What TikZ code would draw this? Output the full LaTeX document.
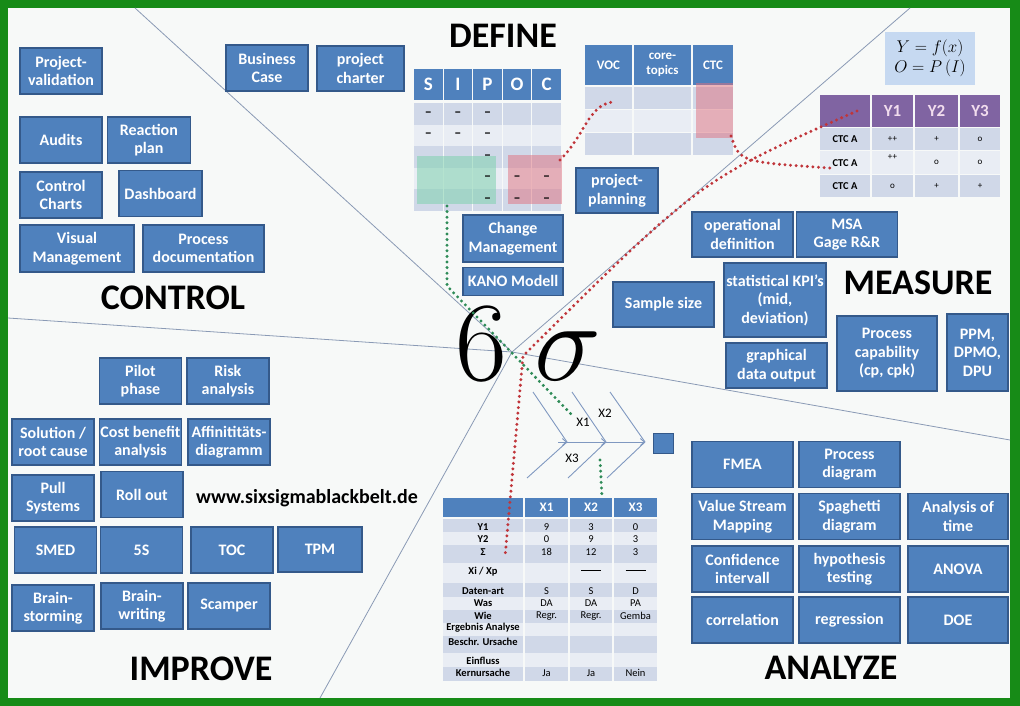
\RequirePackage{fix-cm}
\documentclass[tikz,border=0pt]{standalone}
\usepackage[no-math]{fontspec}
\setmainfont{Carlito}
\usepackage{tikz}
\usetikzlibrary{arrows.meta, positioning}
\definecolor{sixBlue}{HTML}{4F81BD}
\definecolor{sixBlueDark}{HTML}{34598A}
\definecolor{sixPurple}{HTML}{8064A2}
\definecolor{sixLilac}{HTML}{F2DDEE}
\definecolor{sixFrame}{HTML}{178B17}
\definecolor{sixPaper}{HTML}{F7F9F8}
\definecolor{rowDark}{HTML}{D0D8E8}
\definecolor{rowLight}{HTML}{E9EDF4}
\definecolor{formulaBlue}{HTML}{C6D9F1}
\definecolor{lineGrey}{HTML}{8A9AB5}
\definecolor{boneBlue}{HTML}{7F98C0}
\definecolor{dotRed}{HTML}{C0353A}
\definecolor{dotGreen}{HTML}{2E8B57}
\definecolor{mint}{HTML}{7FD1AE}
\definecolor{rose}{HTML}{E0707E}

\begin{document}
\begin{tikzpicture}[
  x=1pt, y=-1pt,
  box/.style={rectangle, draw=sixBlueDark, fill=sixBlue, line width=1.4pt, minimum width=82pt, minimum height=46pt, inner sep=1pt, align=center, text=white, font=\bfseries\fontsize{16}{18.5}\selectfont},
  abox/.style={box, minimum width=101pt, minimum height=46pt},
  phase/.style={inner sep=0pt, font=\bfseries\fontsize{36}{36}\selectfont},
  hdr/.style={rectangle, fill=sixBlue, inner sep=0pt, text=white, align=center, font=\bfseries\fontsize{13}{15}\selectfont},
  cell/.style={inner sep=0pt, font=\fontsize{10.5}{12}\selectfont},
  divider/.style={draw=lineGrey, line width=0.8pt},
  bone/.style={draw=boneBlue, line width=0.9pt},
  arrow/.style={bone, -{Straight Barb[length=4pt, width=7pt]}},
  reddots/.style={draw=dotRed, line width=3.3pt, line cap=round, dash pattern=on 0pt off 5.6pt},
  greendots/.style={reddots, draw=dotGreen},
]

% Frame
\fill[sixFrame] (0,0) rectangle (1020,706);
\fill[sixPaper] (8,8) rectangle (1010,698);
\useasboundingbox (0,0) rectangle (1020,706);

% Dividers between the phases
\coordinate (hub) at (512,352);
\coordinate (cutNW) at (135,8);
\coordinate (cutW) at (8,318);
\coordinate (cutNE) at (910,8);
\coordinate (cutE) at (1010,440);
\coordinate (cutS) at (320,698);
\draw[divider] (hub) -- (cutNW);
\draw[divider] (hub) -- (cutW);
\draw[divider] (hub) -- (cutNE);
\draw[divider] (hub) -- (cutE);
\draw[divider] (hub) -- (cutS);

% CONTROL
\node[box] (pval) at (61,71) {Project-\\validation};
\node[box] (audits) at (61,140) {Audits};
\node[box, minimum width=83pt, right=4pt of audits] (reaction) {Reaction\\plan};
\node[box] (ccharts) at (61,195) {Control\\Charts};
\node[box, minimum width=83pt] (dashboard) at (160.5,193.5) {Dashboard};
\node[box, minimum width=114pt, minimum height=47pt] (visual) at (77,248.5) {Visual\\Management};
\node[box, minimum width=121pt, minimum height=47pt] (procdoc) at (203.5,248.5) {Process\\documentation};
\node[phase] (control) at (173,298) {CONTROL};

% DEFINE
\node[phase] (define) at (503,36) {DEFINE};
\node[box] (bcase) at (267,68) {Business\\Case};
\node[box, minimum width=87pt, minimum height=45pt] (charter) at (360.5,68.5) {project\\charter};
\node[box, minimum width=100pt, minimum height=47pt] (change) at (513,238.5) {Change\\Management};
\node[box, minimum width=100pt, minimum height=28pt, below=4pt of change] (kano) {KANO Modell};
\node[box, minimum height=45pt] (planning) at (617,190.5) {project-\\planning};

% MEASURE
\node[phase] (measure) at (918,283) {MEASURE};
\node[abox, minimum height=45pt] (sample) at (663.5,304.5) {Sample size};
\node[abox, minimum height=45pt] (opdef) at (742.5,234.5) {operational\\definition};
\node[abox, minimum height=45pt, right=2pt of opdef] (msa) {MSA\\Gage R\&R};
\node[abox, minimum width=102pt, minimum height=74pt] (kpi) at (775,300) {statistical KPI’s\\(mid,\\deviation)};
\node[abox, minimum height=45pt] (graph) at (776.5,365.5) {graphical\\data output};
\node[abox, minimum width=100pt, minimum height=75pt] (capab) at (887,353.5) {Process\\capability\\(cp, cpk)};
\node[box, minimum width=61pt, minimum height=77pt] (ppm) at (977.5,352.5) {PPM,\\DPMO,\\DPU};

% ANALYZE
\node[phase] (analyze) at (831,668) {ANALYZE};
\node[abox] (fmea) at (742.5,464.5) {FMEA};
\node[abox] (procdiag) at (849.5,464.5) {Process\\diagram};
\node[abox] (vsm) at (742.5,516.5) {Value Stream\\Mapping};
\node[abox] (spaghetti) at (849.5,516.5) {Spaghetti\\diagram};
\node[abox, minimum width=100pt] (timeana) at (958,516.5) {Analysis of\\time};
\node[abox] (conf) at (742.5,569) {Confidence\\intervall};
\node[abox] (hypo) at (849.5,569) {hypothesis\\testing};
\node[abox, minimum width=100pt] (anova) at (958,569) {ANOVA};
\node[abox] (corr) at (742.5,620) {correlation};
\node[abox] (regr) at (849.5,620) {regression};
\node[abox, minimum width=100pt] (doe) at (958,620) {DOE};

% IMPROVE
\node[phase] (improve) at (201,669) {IMPROVE};
\node[box] (pilot) at (140.5,381) {Pilot\\phase};
\node[box, right=4pt of pilot] (risk) {Risk\\analysis};
\node[box] (solution) at (53,442) {Solution /\\root cause};
\node[box] (cost) at (140.5,442) {Cost benefit\\analysis};
\node[box] (affin) at (229,442) {Affinititäts-\\diagramm};
\node[box] (pull) at (53,498) {Pull\\Systems};
\node[box] (rollout) at (142,494.5) {Roll out};
\node[box] (smed) at (55.5,550) {SMED};
\node[box] (fiveS) at (141.5,550) {5S};
\node[box] (toc) at (232,550) {TOC};
\node[box, minimum width=84pt, minimum height=45pt] (tpm) at (320,549.5) {TPM};
\node[box] (bstorm) at (53,608) {Brain-\\storming};
\node[box] (bwrite) at (142,606) {Brain-\\writing};
\node[box] (scamper) at (229,606) {Scamper};
\node[inner sep=0pt, font=\bfseries\fontsize{20}{20}\selectfont] (url) at (307,498) {www.sixsigmablackbelt.de};

% SIPOC table
\foreach \c [count=\i from 0] in {S,I,P,O,C}
  \node[hdr, minimum width=28.6pt, minimum height=31pt, font=\bfseries\fontsize{19}{19}\selectfont] (sipoc\c) at (428.3+29.6*\i,84.5) {\c};
\foreach \r/\tint in {0/rowDark,1/rowLight,2/rowDark,3/rowLight,4/rowDark}
  \foreach \i in {0,...,4}
    \fill[\tint] (414+29.6*\i,103+21.6*\r) rectangle ++(28.6,21.6);
\fill[mint, opacity=.55] (417,156) rectangle (496,204);
\fill[rose, opacity=.5] (508,155) rectangle (562,204);
\foreach \i/\r in {0/0,1/0,2/0,0/1,1/1,2/1,2/2,2/3,3/3,4/3,2/4,3/4,4/4}
  \node[cell, font=\bfseries\fontsize{14}{14}\selectfont] (dash\i\r) at (428.3+29.6*\i,113.8+21.6*\r) {–};

% VOC table
\node[hdr, minimum width=47pt, minimum height=40pt] (voc) at (608.5,65) {VOC};
\node[hdr, minimum width=57pt, minimum height=40pt] (topics) at (662.5,65) {core-\\topics};
\node[hdr, minimum width=40pt, minimum height=40pt] (ctc) at (713,65) {CTC};
\foreach \r/\tint in {0/rowDark,1/rowLight,2/rowDark} {
  \fill[\tint] (585,87+23*\r) rectangle ++(47,22);
  \fill[\tint] (634,87+23*\r) rectangle ++(57,22);
  \fill[\tint] (693,87+23*\r) rectangle ++(40,22);
}
\fill[rose, opacity=.5] (696,83) rectangle (733,138);

% Y table
\node[hdr, fill=sixPurple, minimum width=50pt, minimum height=32pt] (yhead) at (845,111) {};
\foreach \k/\xc/\w in {1/892.5/41pt, 2/936.5/43pt, 3/980/40pt}
  \node[hdr, fill=sixPurple, text=sixLilac, minimum width=\w, minimum height=32pt, font=\bfseries\fontsize{17}{17}\selectfont] (y\k) at (\xc,111) {Y\k};
\foreach \r/\tint in {0/rowDark,1/rowLight,2/rowDark} {
  \fill[\tint] (820,128+23.3*\r) rectangle ++(50,22.3);
  \fill[\tint] (872,128+23.3*\r) rectangle ++(41,22.3);
  \fill[\tint] (915,128+23.3*\r) rectangle ++(43,22.3);
  \fill[\tint] (960,128+23.3*\r) rectangle ++(40,22.3);
  \node[cell, font=\bfseries\fontsize{10.5}{11}\selectfont] (ctcA\r) at (845,139.5+23.3*\r) {CTC A};
}
\foreach \r/\yc/\va/\vb/\vc in {0/139.5/++/+/o, 1/162.8//o/o, 2/186.1/o/+/+} {
  \node[cell, font=\fontsize{9}{9}\selectfont] (ya\r) at (892.5,\yc) {\va};
  \node[cell, font=\fontsize{9}{9}\selectfont] (yb\r) at (936.5,\yc) {\vb};
  \node[cell, font=\fontsize{9}{9}\selectfont] (yc\r) at (980,\yc) {\vc};
}
\node[cell, font=\fontsize{9}{9}\selectfont] (yraised) at (892.5,157) {++};
\node[fill=formulaBlue, minimum width=90pt, minimum height=53pt, align=center, font=\fontsize{17}{19.5}\selectfont] (formula) at (930,58.5) {$Y=f(x)$\\$O=P\,(I)$};

% X table
\node[hdr, minimum width=80pt, minimum height=19pt] (xhead) at (483,507.5) {};
\foreach \k/\xc/\w in {1/546.5/43pt, 2/591/42pt, 3/635.5/43pt}
  \node[hdr, minimum width=\w, minimum height=19pt] (x\k) at (\xc,507.5) {X\k};
\foreach \ya/\yb/\tint in {519/532/rowDark, 532/545/rowLight, 545/563/rowDark, 563/583/rowLight, 583/597/rowDark, 597/610/rowLight, 610/623/rowDark, 623/636/rowLight, 636/653/rowDark, 653/667/rowLight, 667/681/rowDark} {
  \fill[\tint] (443,\ya) rectangle (523,\yb);
  \fill[\tint] (525,\ya) rectangle (568,\yb);
  \fill[\tint] (570,\ya) rectangle (612,\yb);
  \fill[\tint] (614,\ya) rectangle (657,\yb);
}
\foreach \yc/\lab/\va/\vb/\vc [count=\n] in {
    527/Y1/9/3/0, 539/Y2/0/9/3, 552/Σ/18/12/3,
    572/{Xi / Xp}/{}/{\rule[2.5pt]{20pt}{0.7pt}}/{\rule[2.5pt]{20pt}{0.7pt}},
    591/Daten-art/S/S/D, 603/Was/DA/DA/PA, 616/Wie/Regr./Regr./Gemba,
    628/Ergebnis Analyse/{}/{}/{}, 642/Beschr. Ursache/{}/{}/{},
    661/Einfluss/{}/{}/{}, 673/Kernursache/Ja/Ja/Nein} {
  \node[cell, font=\bfseries\fontsize{10.5}{12}\selectfont] (lab\n) at (483,\yc) {\lab};
  \node[cell] (xa\n) at (546.5,\yc) {\va};
  \node[cell] (xb\n) at (591,\yc) {\vb};
  \node[cell] (xc\n) at (635.5,\yc) {\vc};
}

% Fishbone
\coordinate (spine0) at (558,442);
\coordinate (spine1) at (567,442);
\coordinate (spine2) at (606,442);
\coordinate (spine3) at (645,442);
\node[rectangle, draw=sixBlueDark, fill=sixBlue, line width=1.2pt, minimum size=20pt, inner sep=0pt] (effect) at (663.5,443.5) {};
\coordinate (boneA) at (533,392);
\coordinate (boneB) at (527,478);
\coordinate (boneC) at (572,392);
\coordinate (boneD) at (568,478);
\coordinate (boneE) at (610,392);
\coordinate (boneF) at (607,478);
\draw[bone] (boneA) -- (spine1);
\draw[bone] (boneB) -- (spine1);
\draw[bone] (boneC) -- (spine2);
\draw[bone] (boneD) -- (spine2);
\draw[bone] (boneE) -- (spine3);
\draw[bone] (boneF) -- (spine3);
\draw[arrow] (spine0) -- (spine1);
\draw[arrow] (spine1) -- (spine2);
\draw[arrow] (spine2) -- (spine3);
\node[inner sep=0pt, font=\fontsize{13}{13}\selectfont] (lblX1) at (583,422) {X1};
\node[inner sep=0pt, font=\fontsize{13}{13}\selectfont] (lblX2) at (605,413) {X2};
\node[inner sep=0pt, font=\fontsize{13}{13}\selectfont] (lblX3) at (572,458) {X3};

% 6 sigma
\node[anchor=base, inner sep=0pt, font=\fontsize{113}{113}\selectfont] (six) at (481.5,380) {$6$};
\node[anchor=base, inner sep=0pt, font=\fontsize{113}{113}\selectfont] (sigma) at (567.5,380) {$\sigma$};

% Dotted links
\coordinate (sipocRed) at (560,160);
\coordinate (vocRow) at (612,102);
\coordinate (ctcDrop) at (731,136);
\coordinate (ctcRow) at (830,168);
\coordinate (yStart) at (857,111);
\coordinate (sigBend) at (523,356);
\coordinate (sigEnd) at (505,557);
\coordinate (sipocGreen) at (447,206);
\coordinate (greenKnee) at (447,286);
\coordinate (boneX1) at (571,414);
\coordinate (boneX2) at (600,460);
\coordinate (tabX2) at (602,497);
\draw[reddots] (sipocRed) .. controls (585,135) and (588,106) .. (vocRow);
\draw[reddots] (ctcDrop) .. controls (740,162) .. (ctcRow);
\draw[reddots] (yStart) .. controls (700,180) .. (sigBend) -- (sigEnd);
\draw[greendots] (sipocGreen) -- (greenKnee) -- (boneX1);
\draw[greendots] (boneX2) -- (tabX2);

\end{tikzpicture}
\end{document}
